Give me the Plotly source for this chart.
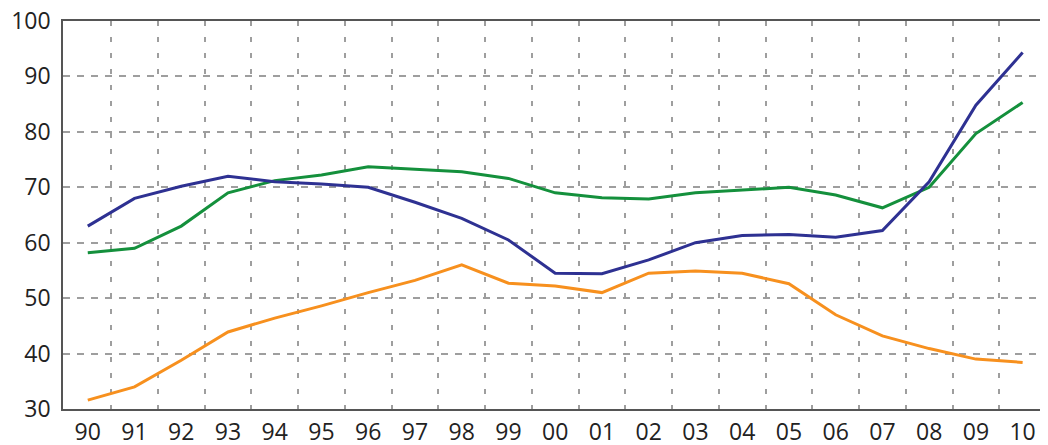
import plotly.graph_objects as go

years = ["90", "91", "92", "93", "94", "95", "96", "97", "98", "99", "00",
         "01", "02", "03", "04", "05", "06", "07", "08", "09", "10"]
blue = [63.0, 68.0, 70.2, 72.0, 71.0, 70.6, 70.0, 67.3, 64.4, 60.5, 54.5,
        54.4, 56.9, 60.0, 61.3, 61.5, 61.0, 62.2, 71.0, 84.8, 94.3]
green = [58.2, 59.0, 63.0, 69.0, 71.2, 72.2, 73.7, 73.2, 72.8, 71.6, 69.0,
         68.1, 67.9, 69.0, 69.5, 70.0, 68.6, 66.3, 70.0, 79.7, 85.3]
orange = [31.6, 34.0, 38.8, 43.9, 46.4, 48.6, 51.0, 53.2, 56.0, 52.7, 52.2,
          51.0, 54.5, 54.9, 54.5, 52.6, 47.0, 43.2, 40.9, 39.0, 38.4]

x = list(range(len(years)))

fig = go.Figure()
fig.add_trace(go.Scatter(x=x, y=orange, mode="lines", line=dict(color="#f7901e", width=3)))
fig.add_trace(go.Scatter(x=x, y=green, mode="lines", line=dict(color="#14903c", width=3)))
fig.add_trace(go.Scatter(x=x, y=blue, mode="lines", line=dict(color="#2e3192", width=3)))

grid_col = "#9e9e9e"
# page body has an 8px margin, so the figure is sized/offset to compensate
fig.update_layout(
    width=1040, height=437,
    margin=dict(l=55, r=2, t=13, b=36, autoexpand=False),
    plot_bgcolor="white", paper_bgcolor="white",
    showlegend=False,
    font=dict(family="Open Sans, Noto Sans, sans-serif", size=23, color="#222222"),
    xaxis=dict(
        range=[-0.53, 20.5], automargin=False, ticklabeloverflow="allow",
        tickmode="array", tickvals=x, ticktext=years,
        showgrid=False, zeroline=False,
        ticks="", ticklen=0, ticklabelstandoff=2,
        showline=True, linecolor="#555555", linewidth=1.5, mirror=True,
        minor=dict(tickmode="array", tickvals=[i + 0.5 for i in range(20)],
                   showgrid=True, gridcolor=grid_col, gridwidth=1.5,
                   griddash="5px,11px", ticks=""),
    ),
    yaxis=dict(
        range=[30, 100], automargin=False, ticklabeloverflow="allow",
        tickmode="array", tickvals=[30, 40, 50, 60, 70, 80, 90, 100],
        showgrid=True, gridcolor=grid_col, gridwidth=1.5, griddash="7px,7px",
        zeroline=False, ticks="", ticklen=0, ticklabelstandoff=6,
        showline=True, linecolor="#555555", linewidth=1.5, mirror=True,
    ),
)

fig.write_html("out.html")
